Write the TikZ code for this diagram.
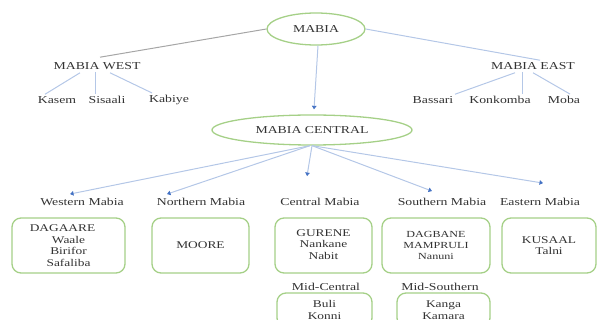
\documentclass[tikz,border=0pt]{standalone}
\usepackage{fontspec}
\setmainfont{Liberation Serif}[FakeStretch=1.3]
\usetikzlibrary{arrows.meta,shapes.geometric}
\definecolor{egreen}{RGB}{165,208,135}
\definecolor{lblue}{RGB}{180,199,231}
\definecolor{tipblue}{RGB}{68,114,196}
\definecolor{lgray}{RGB}{166,166,166}
\definecolor{txt}{RGB}{50,50,50}
\tikzset{
  lbl/.style={text=txt, inner sep=1pt, font=\fontsize{10.6}{12}\selectfont},
  oval/.style={ellipse, draw=egreen, line width=1.3pt, text=txt, inner sep=0pt, font=\fontsize{10.6}{12}\selectfont},
  box/.style={draw=egreen, line width=1.3pt, rounded corners=9pt, text=txt, align=center, inner sep=0pt, font=\fontsize{10.3}{11.6}\selectfont},
  conn/.style={draw=lblue, line width=1pt},
  arr/.style={draw=lblue, line width=1pt, -{Triangle[width=4.5pt,length=3.5pt,color=tipblue,fill=tipblue]}}
}
\begin{document}
\begin{tikzpicture}[x=1pt,y=-1pt]
\useasboundingbox (0,0) rectangle (597,320);
\clip (0,0) rectangle (597,320);
% top level
\node[oval, minimum width=98, minimum height=32] (mabia) at (316,29) {MABIA};
\node[oval, minimum width=200, minimum height=30] (central) at (312,130) {MABIA CENTRAL};
\node[lbl] (west) at (97,66) {MABIA WEST};
\node[lbl] (east) at (533,66) {MABIA EAST};
\node[lbl] (kasem) at (57,100) {Kasem};
\node[lbl] (sisaali) at (107,100) {Sisaali};
\node[lbl] (kabiye) at (169,100) {Kabiye};
\node[lbl] (bassari) at (433,100) {Bassari};
\node[lbl] (konkomba) at (500,100) {Konkomba};
\node[lbl] (moba) at (564,100) {Moba};
% categories
\node[lbl] (wm) at (82,202) {Western Mabia};
\node[lbl] (nm) at (201,202) {Northern Mabia};
\node[lbl] (cm) at (320,202) {Central Mabia};
\node[lbl] (sm) at (442,202) {Southern Mabia};
\node[lbl] (em) at (540,202) {Eastern Mabia};
% boxes
\node[box, minimum width=113, minimum height=55] (b1) at (68.5,245.5) {DAGAARE\hspace*{12pt}\\Waale\\Birifor\\Safaliba};
\node[box, minimum width=97, minimum height=55] (b2) at (200.5,245.5) {MOORE};
\node[box, minimum width=97, minimum height=55] (b3) at (323.5,245.5) {\raisebox{3pt}{\begin{tabular}{@{}c@{}}GURENE\\Nankane\\Nabit\end{tabular}}};
\node[box, minimum width=108, minimum height=55, font=\fontsize{9.3}{10.6}\selectfont] (b4) at (436,245.5) {DAGBANE\\MAMPRULI\\Nanuni};
\node[box, minimum width=94, minimum height=55] (b5) at (549,245.5) {KUSAAL\\Talni};
\node[lbl] (midc) at (326,287) {Mid-Central};
\node[lbl] (mids) at (440,287) {Mid-Southern};
\node[box, minimum width=95, minimum height=34] (b6) at (324.5,310) {Buli\\Konni};
\node[box, minimum width=93, minimum height=34] (b7) at (443.5,310) {Kanga\\Kamara};
% connectors
\draw[draw=lgray, line width=1pt] (mabia.west) -- ([xshift=3pt,yshift=4pt]west.north);
\draw[conn] (mabia.east) -- ([xshift=7pt,yshift=1pt]east.north);
\draw[arr] ([xshift=2pt]mabia.south) -- ([xshift=2pt,yshift=5pt]central.north);
\draw[conn] ([xshift=-17pt,yshift=-2pt]west.south) -- ([xshift=-12pt,yshift=1pt]kasem.north);
\draw[conn] ([xshift=-2pt,yshift=-1pt]west.south) -- ([xshift=-12pt,yshift=1pt]sisaali.north);
\draw[conn] ([xshift=13pt,yshift=-2pt]west.south) -- ([xshift=-17pt,yshift=1pt]kabiye.north);
\draw[conn] ([xshift=-18pt,yshift=-2pt]east.south) -- ([xshift=22pt,yshift=1pt]bassari.north);
\draw[conn] ([xshift=-11pt,yshift=-1pt]east.south) -- ([xshift=22pt,yshift=1pt]konkomba.north);
\draw[conn] ([yshift=-2pt]east.south) -- ([xshift=6pt,yshift=1pt]moba.north);
\draw[arr] ([xshift=-2pt]central.south) -- ([xshift=-12pt,yshift=3pt]wm.north);
\draw[arr] ([xshift=-2pt]central.south) -- ([xshift=-34pt,yshift=3pt]nm.north);
\draw[arr] (central.south) -- ([xshift=-13pt,yshift=21pt]cm.north);
\draw[arr] (central.south) -- ([xshift=-10pt,yshift=6pt]sm.north);
\draw[arr] (central.south) -- ([xshift=3pt,yshift=14pt]em.north);
\end{tikzpicture}
\end{document}
